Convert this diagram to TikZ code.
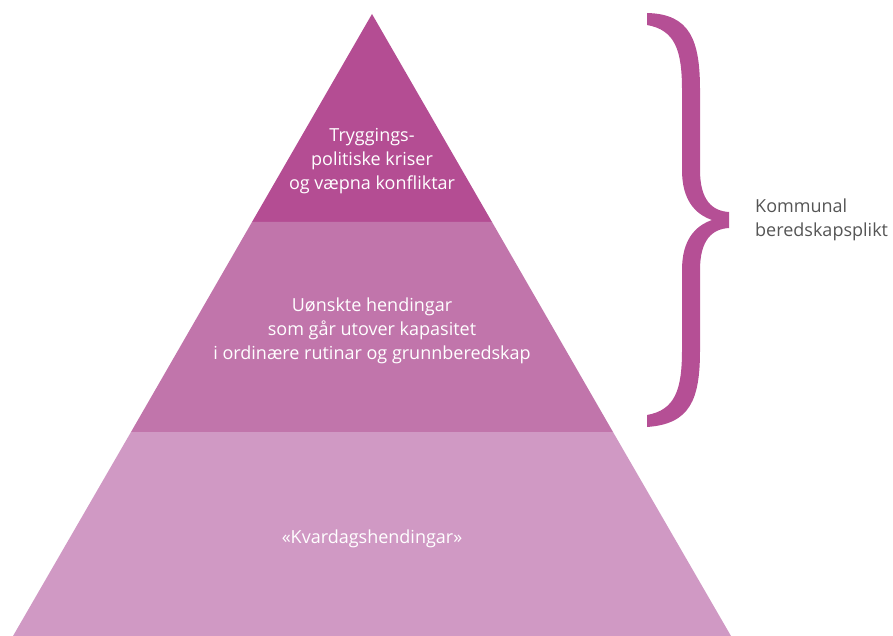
\documentclass[tikz,border=0pt]{standalone}
\usepackage{fontspec}
\setmainfont{Open Sans}
\usetikzlibrary{positioning}

\definecolor{toplayer}{RGB}{180,77,147}
\definecolor{midlayer}{RGB}{193,117,171}
\definecolor{baselayer}{RGB}{208,153,196}
\definecolor{bracecol}{RGB}{181,79,149}
\definecolor{labelgrey}{RGB}{85,85,85}

\begin{document}
\begin{tikzpicture}[
            x = 1pt, y = -1pt, % image pixels, y downwards
            font = \fontsize{18}{24}\selectfont
        ]

        \tikzstyle{every node}=[
        inner sep = 0pt,
        align = center
        ]
        \tikzstyle{layertext}=[text = white]
        \tikzstyle{bracetext}=[text = labelgrey, align = left, anchor = west]

        \useasboundingbox (0,0) rectangle (893,636);

        % pyramid layers
        \fill[toplayer] (372,14) -- (492,222) -- (252,222) -- cycle;
        \fill[midlayer] (252,222) -- (492,222) -- (613,432) -- (131,432) -- cycle;
        \fill[baselayer] (131,432) -- (613,432) -- (731,636) -- (13,636) -- cycle;

        % brace
        \fill[bracecol] (647,13) .. controls (690,14) and (700,40) .. (700,90)
            -- (700,170) .. controls (700,200) and (712,211) .. (729,212)
            -- (729,228) .. controls (712,229) and (700,240) .. (700,270)
            -- (700,350) .. controls (700,400) and (690,424) .. (647,427)
            -- (647,415) .. controls (675,410) and (682,390) .. (682,350)
            -- (682,270) .. controls (682,240) and (695,226) .. (712,220)
            .. controls (695,214) and (682,200) .. (682,170)
            -- (682,90) .. controls (682,50) and (675,30) .. (647,25) -- cycle;

        \node[layertext] (kriser) at (372,161) {Tryggings-\\politiske kriser\\og væpna konfliktar};
        \node[layertext] (uonskte) at (372,331) {Uønskte hendingar\\som går utover kapasitet\\i ordinære rutinar og grunnberedskap};
        \node[layertext] (kvardag) at (372,539) {«Kvardagshendingar»};
        \node[bracetext] (plikt) at (755,220) {Kommunal\\beredskapsplikt};
    \end{tikzpicture}
\end{document}
